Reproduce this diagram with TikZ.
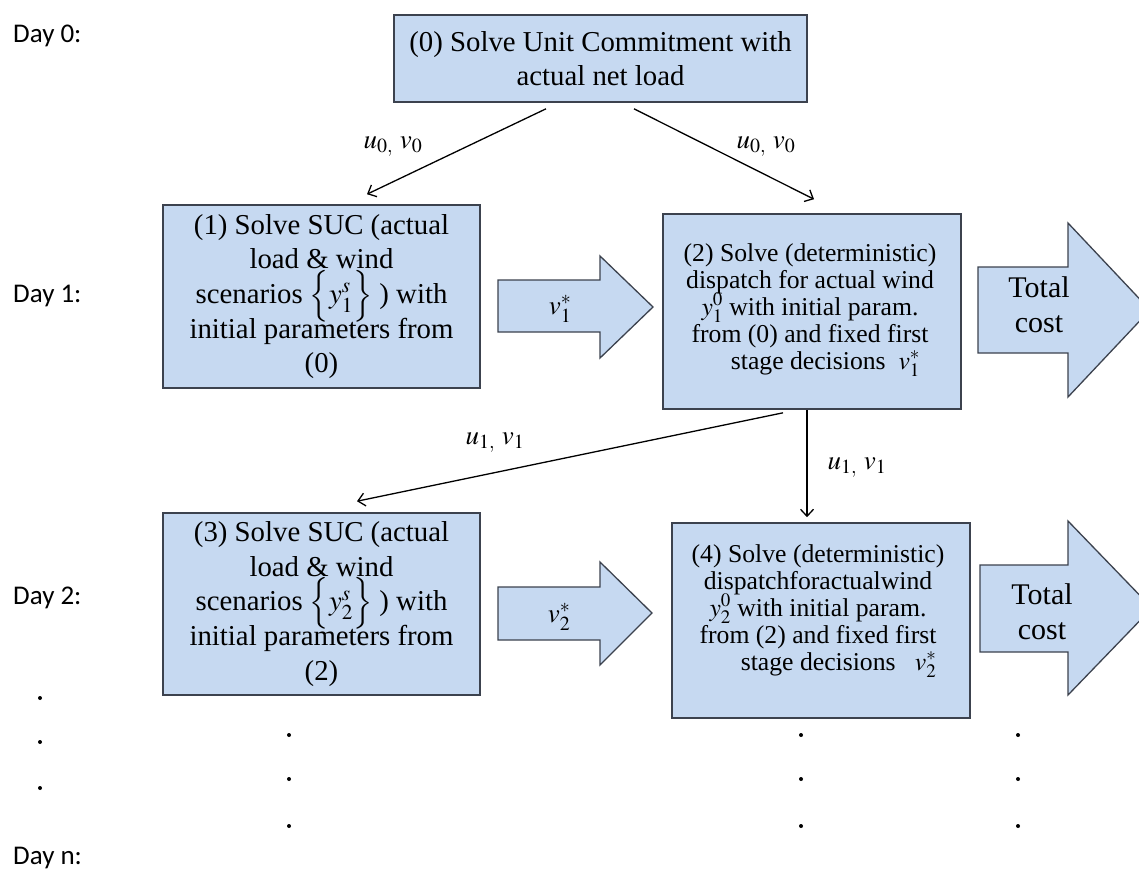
\documentclass[tikz,border=0pt]{standalone}
\usepackage{fix-cm}
\usepackage{mathptmx}
\usepackage{fontspec}
\setmainfont{Liberation Serif}
\newfontfamily\daysans{Carlito}
\usetikzlibrary{arrows.meta,calc}
\definecolor{boxfill}{RGB}{198,217,241}
\definecolor{boxline}{RGB}{60,66,78}
\begin{document}
\begin{tikzpicture}[x=1pt,y=-1pt,
  box/.style={draw=boxline, fill=boxfill, line width=1.6pt, inner sep=0pt},
  big/.style={font=\fontsize{28.8}{34.6}\selectfont, align=center},
  small/.style={font=\fontsize{25.7}{27}\selectfont, align=center, inner sep=0pt},
  day/.style={font=\daysans\fontsize{27}{30}\selectfont, anchor=west, inner sep=0pt},
  lab/.style={font=\fontsize{27}{30}\selectfont, inner sep=0pt},
  conn/.style={line width=1.3pt, -{Straight Barb[length=7pt,width=13pt,line width=1.3pt]}},
  blk/.style={draw=boxline, fill=boxfill, line width=1.3pt, line join=miter},
  tot/.style={font=\fontsize{30}{35}\selectfont, align=center, inner sep=0pt},
  dotn/.style={circle, fill=black, inner sep=0pt, minimum size=4pt}
]
\useasboundingbox (0,0) rectangle (1139,871);

% day labels
\node[day] (d0) at (13,36) {Day 0:};
\node[day] (d1) at (13,296) {Day 1:};
\node[day] (d2) at (13,598) {Day 2:};
\node[day] (dn) at (13,858) {Day n:};

% boxes
\node[box, big, minimum width=413pt, minimum height=87pt] (b0) at (600.5,58.5)
  {(0) Solve Unit Commitment with\\actual net load};
\node[box, big, minimum width=317pt, minimum height=183pt] (b1) at (321.5,296.5)
  {(1) Solve SUC (actual\\load \& wind\\scenarios \smash{$\Big\{ y_1^{s} \Big\}$} ) with\\initial parameters from\\(0)};
\node[box, minimum width=298pt, minimum height=195pt] (b2) at (812,311.5) {};
\node[small] (t2) at (810,309)
  {(2) Solve (deterministic)\\dispatch for actual wind\\\smash{$y_1^0$} with initial param.\\from (0) and fixed first\\\hspace*{1.2em}stage decisions\ \ \smash{$v_1^*$}};
\node[box, big, minimum width=317pt, minimum height=182pt] (b3) at (321.5,604)
  {(3) Solve SUC (actual\\load \& wind\\scenarios \smash{$\Big\{ y_2^{s} \Big\}$} ) with\\initial parameters from\\(2)};
\node[box, minimum width=298pt, minimum height=195pt] (b4) at (821,620.5) {};
\node[small] (t4) at (818,610)
  {(4) Solve (deterministic)\\dispatchforactualwind\hspace*{1em}\\\smash{$y_2^0$} with initial param.\\from (2) and fixed first\\\hspace*{1.6em}stage decisions\ \ \ \smash{$v_2^*$}};

% connectors
\draw[conn] ($(b0.south)+(-54.5,6)$) -- ($(b1.north)+(45.5,-10)$);
\draw[conn] ($(b0.south)+(33.5,6)$) -- ($(b2.north)+(2,-14)$);
\draw[conn] ($(b2.south)+(-29,3)$) -- ($(b3.north)+(35.5,-11)$);
\draw[conn] ($(b2.south)+(-5,0)$) -- ($(b4.north)+(-14,-5)$);

\node[lab] (l0a) at (393,147) {$u_{0,}\ v_0$};
\node[lab] (l0b) at (766,147) {$u_{0,}\ v_0$};
\node[lab] (l1a) at (495,443) {$u_{1,}\ v_1$};
\node[lab] (l1b) at (857,468) {$u_{1,}\ v_1$};

% block arrows
\draw[blk] (498,280) -- (600,280) -- (600,256) -- (653,307) -- (600,358) -- (600,332) -- (498,332) -- cycle;
\node[lab] (v1) at (560,309) {$v_1^*$};
\draw[blk] (498,587) -- (600,587) -- (600,562) -- (652,613) -- (600,665) -- (600,640) -- (498,640) -- cycle;
\node[lab] (v2) at (559,617) {$v_2^*$};

\draw[blk] (978,267) -- (1068,267) -- (1068,223) -- (1150,310) -- (1068,397) -- (1068,353) -- (978,353) -- cycle;
\node[tot] (c1) at (1039,305) {Total\\cost};
\draw[blk] (980,565) -- (1068,565) -- (1068,521) -- (1152,608) -- (1068,695) -- (1068,652) -- (980,652) -- cycle;
\node[tot] (c2) at (1042,612) {Total\\cost};

% dots
\foreach \y [count=\i] in {698,742,788} { \node[dotn] (pl\i) at (40,\y) {}; }
\foreach \y [count=\i] in {735,779,826} {
  \node[dotn] (pa\i) at (289,\y) {};
  \node[dotn] (pb\i) at (801,\y) {};
  \node[dotn] (pc\i) at (1018,\y) {};
}
\end{tikzpicture}
\end{document}
